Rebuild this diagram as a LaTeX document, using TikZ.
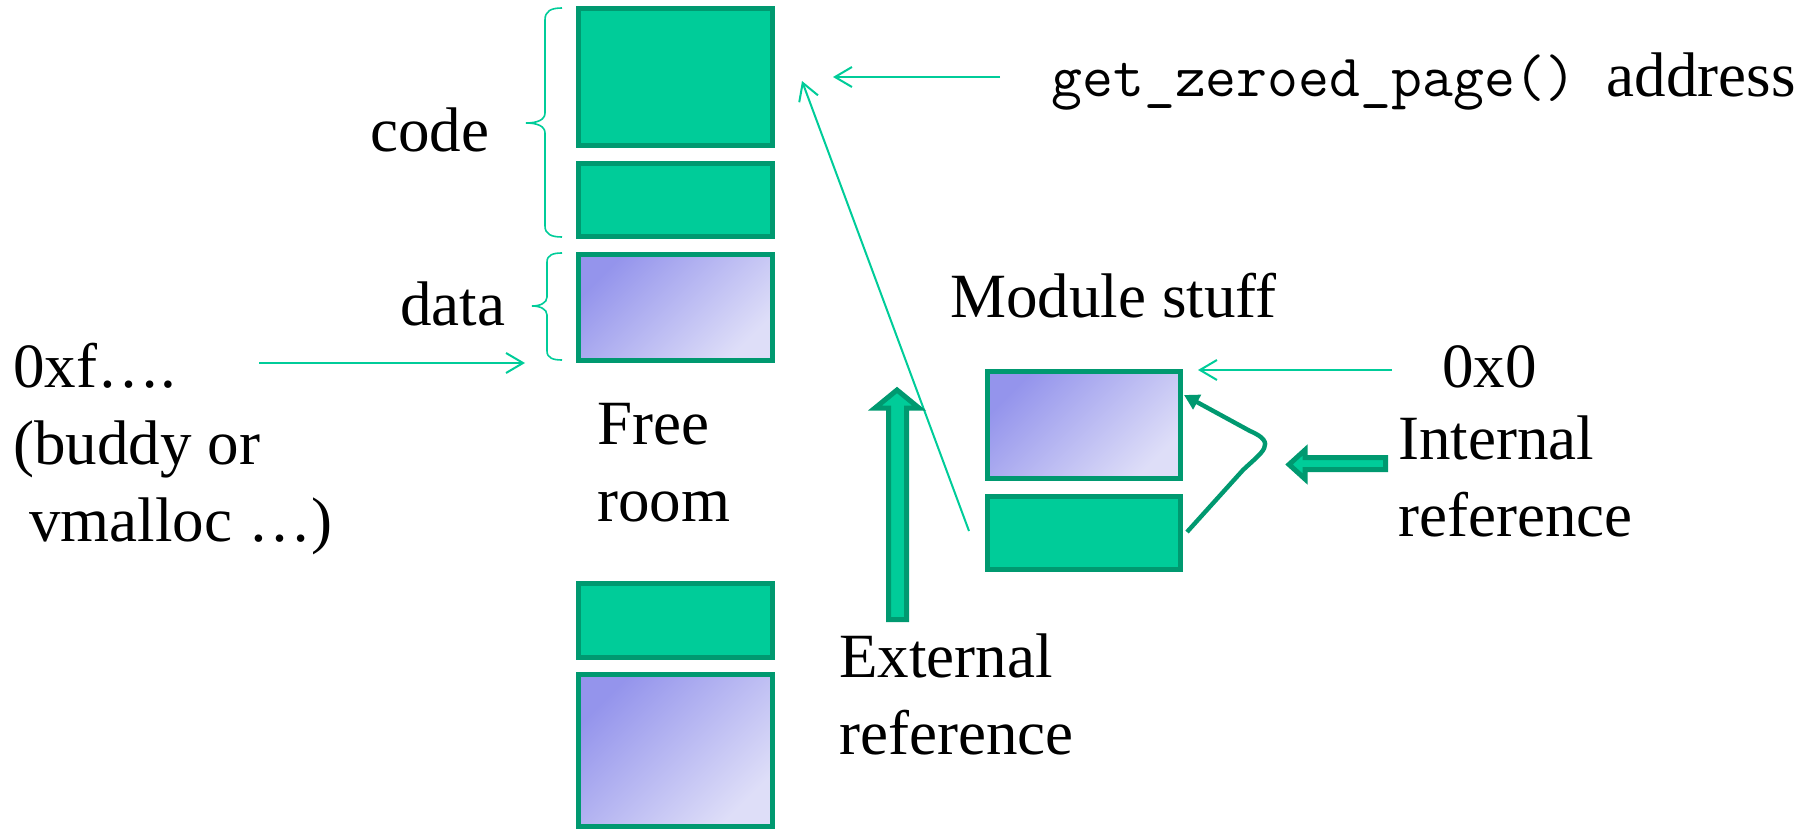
\documentclass[tikz,border=0pt]{standalone}
\usepackage{fontspec}
\setmainfont{Liberation Serif}
\usetikzlibrary{arrows.meta}
\definecolor{gfill}{RGB}{0,204,153}
\definecolor{gdark}{RGB}{0,153,112}
\definecolor{bdark}{RGB}{148,148,236}
\definecolor{blight}{RGB}{222,222,248}
\begin{document}
\begin{tikzpicture}[x=0.5pt, y=-0.5pt,
  font=\fontsize{31.5}{38}\selectfont,
  gbox/.style={draw=gdark, line width=2.5pt, fill=gfill, inner sep=0, minimum width=97pt},
  sbox/.style={draw=gdark, line width=2.5pt, top color=bdark, bottom color=blight, shading angle=45, inner sep=0, minimum width=97pt},
  lbl/.style={anchor=base west, inner sep=0},
  thinarrow/.style={draw=gfill, line width=1pt, -{Straight Barb[length=8.5pt,width=10pt]}},
  bracestyle/.style={draw=gfill, line width=0.8pt},
  blockarrow/.style={draw=gdark, fill=gfill, line width=2.5pt, line join=miter},
  curvearrow/.style={draw=gdark, line width=2.2pt, -{Triangle[length=7.5pt,width=8pt]}}
]
\useasboundingbox (0,0) rectangle (1819,829);

% memory column
\node[gbox, minimum height=68pt]   (code1) at (675,77)    {};
\node[gbox, minimum height=36.5pt] (code2) at (675,199.5) {};
\node[sbox, minimum height=53pt]   (data)  at (675,307)   {};
\node[gbox, minimum height=37pt]   (bot1)  at (675,620)   {};
\node[sbox, minimum height=76pt]   (bot2)  at (675,750)   {};

% module boxes
\node[sbox, minimum width=96.5pt, minimum height=53.5pt] (mod1) at (1083.5,424.5) {};
\node[gbox, minimum width=96.5pt, minimum height=36.5pt] (mod2) at (1083.5,532.5) {};

% braces
\draw[bracestyle] (562,8) .. controls (551,8) and (545,11) .. (545,20) -- (545,113)
  .. controls (545,120) and (537,123) .. (526,123)
  .. controls (537,123) and (545,126) .. (545,133) -- (545,226)
  .. controls (545,234) and (551,237) .. (562,237);
\draw[bracestyle] (562,253) .. controls (553,253) and (547,255) .. (547,262) -- (547,297)
  .. controls (547,303) and (540,306) .. (532,306)
  .. controls (540,306) and (547,309) .. (547,315) -- (547,351)
  .. controls (547,358) and (553,360) .. (562,360);

% labels
\node[lbl] (lcode) at (370,151) {code};
\node[lbl] (ldata) at (400,325) {data};
\node[lbl] (lxf1) at (13,387) {0xf….};
\node[lbl] (lxf2) at (13,464) {(buddy or};
\node[lbl] (lxf3) at (29,541) {vmalloc …)};
\node[lbl] (lfree1) at (597,444) {Free};
\node[lbl] (lfree2) at (597,521) {room};
\node[lbl] (lmod) at (950,317) {Module stuff};
\node[lbl] (lx0) at (1442,387) {0x0};
\node[lbl] (lint1) at (1398,459) {Internal};
\node[lbl] (lint2) at (1398,536) {reference};
\node[lbl] (lext1) at (839,677) {External};
\node[lbl] (lext2) at (839,754) {reference};
\node[lbl] (lgzp) at (1051,97) {{\fontsize{30}{38}\selectfont\ttfamily get\_zeroed\_page()}\hspace{15pt}address};

% thin arrows
\coordinate (xffrom) at (259,363);
\coordinate (xfto) at (525,363);
\coordinate (zfrom) at (1000,77);
\coordinate (zto) at (833,77);
\coordinate (x0from) at (1392,370);
\coordinate (x0to) at (1198,370);
\coordinate (extfrom) at (969,531);
\coordinate (extto) at (802,81);
\draw[thinarrow] (xffrom) -- (xfto);
\draw[thinarrow] (zfrom) -- (zto);
\draw[thinarrow] (x0from) -- (x0to);
\draw[thinarrow] (extfrom) -- (extto);

% internal curved reference
\coordinate (cfrom) at (1187,532);
\coordinate (cto) at (1184,395);
\draw[curvearrow] (cfrom) -- (1243,470) .. controls (1262,452) and (1278,443) .. (1250,431) -- (cto);

% block arrows
\draw[blockarrow] (897,390) -- (919,408) -- (906.5,408) -- (906.5,619.5) -- (888.5,619.5) -- (888.5,408) -- (875,408) -- cycle;
\draw[blockarrow] (1289,464.5) -- (1305,450) -- (1305,457.5) -- (1385.5,457.5) -- (1385.5,469.5) -- (1305,469.5) -- (1305,479) -- cycle;
\end{tikzpicture}
\end{document}
